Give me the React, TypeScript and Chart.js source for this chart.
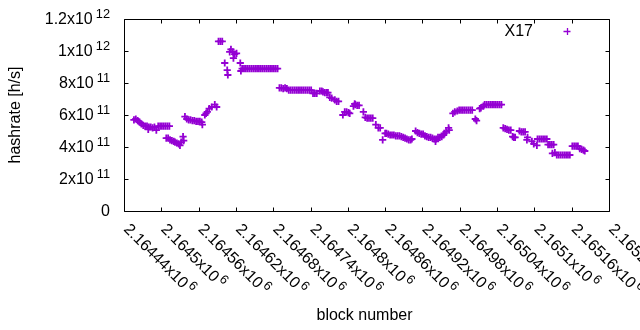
import React, { useEffect, useRef } from "react";
import { Chart, registerables } from "chart.js";

Chart.register(...registerables);

// ---- data ----
const SERIES_NAME = "X17";
const BLOCK_BASE = 2164440; // block numbers are stored as offsets from this
const HASH_UNIT = 1e11; // hashrate values are stored in units of 10^11 h/s

const blockOffsets = [
  16, 19, 22, 25, 28, 31, 34, 37, 39, 40, 43, 46, 49, 52, 55, 58, 61, 64, 67, 70, 73,
  68, 71, 74, 77, 80, 82, 85, 88, 90, 92, 95, 96,
  98, 101, 104, 107, 110, 113, 116, 119, 122, 125, 126, 130, 132, 134, 137, 141, 146, 149,
  152, 155, 158, 162, 166, 167, 170, 172, 175, 176, 178, 181, 187, 188,
  190, 193, 196, 199, 202, 205, 208, 211, 214, 217, 220, 223, 226, 229, 232, 235, 238, 241, 244, 247,
  250, 253, 256, 259, 262, 265, 268, 271, 274, 277, 280, 283, 286, 289, 292, 295, 298, 301,
  304, 307, 310, 315, 318, 320, 323, 326, 328,
  331, 334, 339, 342, 345,
  352, 355, 358, 361, 363, 369, 371, 372, 375, 378,
  385, 388, 391, 394, 397, 400, 405, 409, 412, 416,
  420, 422, 425, 428, 431, 434, 437, 440, 443, 446, 449, 452, 455, 458, 461, 463,
  469, 472, 475, 478, 481, 484, 487, 490, 493, 496, 499, 501, 502, 505, 508, 511, 514, 515, 518, 522, 523,
  529, 532, 536, 539, 542, 545, 548, 551, 554, 557, 560,
  565, 567,
  572, 574, 578, 580, 583, 586, 589, 592, 595, 598, 601, 604, 607,
  610, 613, 616, 619, 622, 625, 627, 629,
  636, 639, 642, 645, 648, 649, 656, 659, 664, 665, 668, 671, 674, 677, 680, 682, 685, 688, 689, 691,
  693, 696, 699, 702, 705, 708, 711, 714, 717,
  721, 724, 727, 730, 733, 736, 739, 741,
];

const hashrateE11 = [
  5.7, 5.75, 5.65, 5.55, 5.45, 5.35, 5.3, 5.3, 5.1, 5.25, 5.25, 5.2, 5.25, 5.05, 5.3, 5.3, 5.3, 5.3, 5.3, 5.3, 5.3,
  4.55, 4.55, 4.45, 4.4, 4.35, 4.3, 4.25, 4.2, 4.1, 4.3, 4.65, 4.4,
  5.9, 5.75, 5.7, 5.7, 5.65, 5.65, 5.6, 5.6, 5.6, 5.55, 5.4, 6.0, 6.1, 6.2, 6.4, 6.5, 6.65, 6.5,
  10.6, 10.6, 10.6, 9.25, 8.8, 8.5, 9.95, 10.1, 9.95, 9.55, 9.8, 9.85, 9.25, 8.75,
  8.9, 8.9, 8.9, 8.9, 8.9, 8.9, 8.9, 8.9, 8.9, 8.9, 8.9, 8.9, 8.9, 8.9, 8.9, 8.9, 8.9, 8.9, 8.9, 8.9,
  7.7, 7.7, 7.65, 7.7, 7.65, 7.55, 7.55, 7.55, 7.55, 7.55, 7.55, 7.55, 7.55, 7.55, 7.55, 7.55, 7.55, 7.55,
  7.35, 7.35, 7.35, 7.5, 7.5, 7.45, 7.4, 7.4, 7.4,
  7.1, 7.05, 6.95, 6.85, 6.85,
  6.0, 6.2, 6.2, 6.15, 6.1, 6.55, 6.7, 6.65, 6.6, 6.6,
  6.2, 5.85, 5.8, 5.8, 5.8, 5.8, 5.4, 5.2, 5.2, 4.45,
  4.85, 4.85, 4.8, 4.75, 4.75, 4.75, 4.7, 4.7, 4.7, 4.65, 4.6, 4.55, 4.5, 4.45, 4.45, 4.5,
  5.0, 4.9, 4.85, 4.8, 4.8, 4.7, 4.65, 4.6, 4.6, 4.55, 4.5, 4.35, 4.5, 4.6, 4.6, 4.65, 4.75, 4.85, 4.95, 5.2, 5.05,
  6.1, 6.2, 6.25, 6.3, 6.3, 6.3, 6.3, 6.3, 6.3, 6.3, 6.3,
  5.75, 5.65,
  6.4, 6.45, 6.55, 6.65, 6.65, 6.65, 6.65, 6.65, 6.65, 6.65, 6.65, 6.65, 6.65,
  5.2, 5.15, 5.1, 5.05, 5.05, 4.65, 4.6, 4.6,
  5.0, 4.95, 4.95, 4.95, 4.45, 4.6, 4.35, 4.2, 4.1, 4.5, 4.5, 4.5, 4.5, 4.5, 4.5, 4.15, 4.15, 4.15, 3.6, 4.15,
  3.65, 3.5, 3.5, 3.5, 3.5, 3.5, 3.5, 3.5, 3.5,
  4.05, 4.05, 4.05, 4.05, 3.9, 3.85, 3.8, 3.75,
];

const X_MIN = 2164440;
const X_MAX = 2165220;
const xTickValues = [
  2164440, 2164500, 2164560, 2164620, 2164680, 2164740, 2164800,
  2164860, 2164920, 2164980, 2165040, 2165100, 2165160, 2165220,
];
const xTickMantissas = [
  "2.16444", "2.1645", "2.16456", "2.16462", "2.16468", "2.16474", "2.1648",
  "2.16486", "2.16492", "2.16498", "2.16504", "2.1651", "2.16516", "2.16522",
];
const xTickExponent = "6";

const Y_MIN = 0;
const Y_MAX = 1.2e12;
const yTickValues = [0, 2e11, 4e11, 6e11, 8e11, 1e12, 1.2e12];
const yTickMantissas = ["0", "2", "4", "6", "8", "1", "1.2"];
const yTickExponents = ["", "11", "11", "11", "11", "12", "12"];

const X_TITLE = "block number";
const Y_TITLE = "hashrate [h/s]";

// ---- style ----
const PURPLE = "#9400d3";
const FONT_FAMILY = '"Liberation Sans", Arial, sans-serif';
const FONT_SIZE = 16;
const SUP_SIZE = 12.8;

const gnuplotFrame = {
  id: "gnuplotFrame",
  afterDraw(chart: any) {
    const { ctx, chartArea: a, scales } = chart;
    const xs = scales.x;
    const ys = scales.y;
    const L = Math.round(a.left) + 0.5;
    const R = Math.round(a.right) + 0.5;
    const T = Math.round(a.top) + 0.5;
    const B = Math.round(a.bottom) + 0.5;
    const TICK = 4;
    ctx.save();
    ctx.strokeStyle = "#000";
    ctx.lineWidth = 1;
    ctx.beginPath();
    ctx.rect(L, T, R - L, B - T);
    ctx.stroke();

    // tick marks (inward, mirrored)
    ctx.beginPath();
    xTickValues.forEach((v) => {
      const px = Math.round(xs.getPixelForValue(v)) + 0.5;
      ctx.moveTo(px, B);
      ctx.lineTo(px, B - TICK);
      ctx.moveTo(px, T);
      ctx.lineTo(px, T + TICK);
    });
    yTickValues.forEach((v) => {
      const py = Math.round(ys.getPixelForValue(v)) + 0.5;
      ctx.moveTo(L, py);
      ctx.lineTo(L + TICK, py);
      ctx.moveTo(R, py);
      ctx.lineTo(R - TICK, py);
    });
    ctx.stroke();

    ctx.fillStyle = "#000";
    const mainFont = `${FONT_SIZE}px ${FONT_FAMILY}`;
    const supFont = `${SUP_SIZE}px ${FONT_FAMILY}`;

    // y tick labels
    const yRight = a.left - 14;
    yTickValues.forEach((v, i) => {
      const py = ys.getPixelForValue(v);
      const base = py + 5;
      const exp = yTickExponents[i];
      ctx.textBaseline = "alphabetic";
      ctx.textAlign = "left";
      ctx.font = supFont;
      const supW = exp ? ctx.measureText(exp).width : 0;
      ctx.font = mainFont;
      const mainW = ctx.measureText(yTickMantissas[i] + (exp ? "x10" : "")).width;
      const gap = exp ? 3 : 0;
      const x0 = yRight - supW - gap - mainW;
      ctx.fillText(yTickMantissas[i] + (exp ? "x10" : ""), x0, base);
      if (exp) {
        ctx.font = supFont;
        ctx.fillText(exp, x0 + mainW + gap, base - 6);
      }
    });

    // x tick labels, rotated by -45 (gnuplot sense: going down-right)
    xTickValues.forEach((v, i) => {
      const px = xs.getPixelForValue(v);
      ctx.save();
      ctx.translate(px - 1, a.bottom + 19);
      ctx.rotate(Math.PI / 4);
      ctx.textAlign = "left";
      ctx.textBaseline = "alphabetic";
      ctx.font = mainFont;
      const main = xTickMantissas[i] + "x10";
      const w = ctx.measureText(main).width;
      ctx.fillText(main, 0, 0);
      ctx.font = supFont;
      ctx.fillText(xTickExponent, w + 2, -6);
      ctx.restore();
    });

    // axis titles
    ctx.font = mainFont;
    ctx.textAlign = "center";
    ctx.textBaseline = "middle";
    ctx.fillText(X_TITLE, (a.left + a.right) / 2 - 2, 316);
    ctx.save();
    ctx.translate(16, (a.top + a.bottom) / 2);
    ctx.rotate(-Math.PI / 2);
    ctx.fillText(Y_TITLE, 0, 0);
    ctx.restore();

    // key
    ctx.textAlign = "right";
    ctx.fillText(SERIES_NAME, 533, 32);
    ctx.strokeStyle = PURPLE;
    ctx.lineWidth = 1.3;
    ctx.beginPath();
    ctx.moveTo(567 - 3.5, 31.5);
    ctx.lineTo(567 + 3.5, 31.5);
    ctx.moveTo(567.5, 28);
    ctx.lineTo(567.5, 35);
    ctx.stroke();
    ctx.restore();
  },
};

export default function App() {
  const ref = useRef<HTMLCanvasElement | null>(null);
  useEffect(() => {
    if (!ref.current) return;
    const points = blockOffsets.map((o, i) => ({
      x: BLOCK_BASE + o,
      y: hashrateE11[i] * HASH_UNIT,
    }));
    const chart = new Chart(ref.current, {
      type: "scatter",
      data: {
        datasets: [
          {
            label: SERIES_NAME,
            data: points,
            pointStyle: "cross",
            pointRadius: 3.6,
            pointBorderWidth: 1.8,
            borderColor: PURPLE,
            backgroundColor: PURPLE,
          },
        ],
      },
      options: {
        responsive: false,
        animation: false,
        layout: { padding: { left: 124, right: 31, top: 19, bottom: 119 } },
        scales: {
          x: { type: "linear", min: X_MIN, max: X_MAX, display: false },
          y: { type: "linear", min: Y_MIN, max: Y_MAX, display: false },
        },
        plugins: { legend: { display: false }, tooltip: { enabled: false } },
      },
      plugins: [gnuplotFrame],
    });
    return () => chart.destroy();
  }, []);
  return (
    <div style={{ position: "fixed", left: 0, top: 0, width: 640, height: 330, background: "#fff" }}>
      <canvas ref={ref} width={640} height={330} />
    </div>
  );
}
